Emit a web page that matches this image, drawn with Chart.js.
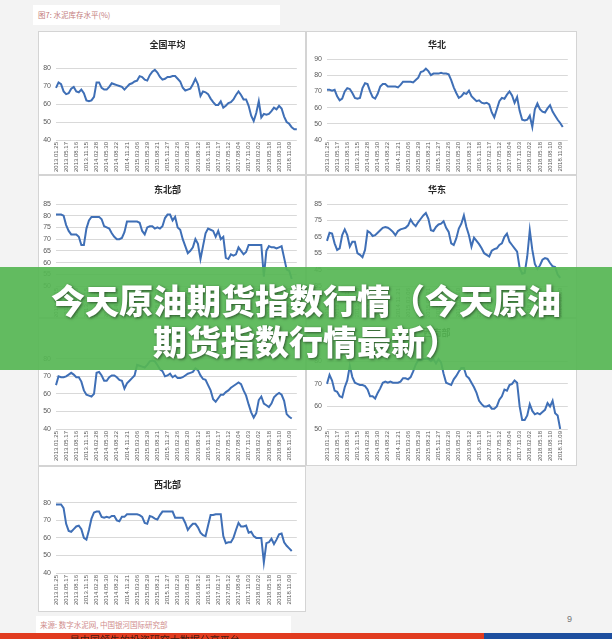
<!DOCTYPE html>
<html><head><meta charset="utf-8">
<script src="https://cdn.jsdelivr.net/npm/chart.js@4"></script>
<style>
html,body{margin:0;padding:0;}
body{width:612px;height:639px;position:relative;overflow:hidden;background:#f3f3f3;font-family:"Noto Sans CJK SC","Noto Sans",sans-serif;}
.box{position:absolute;background:#fff;}
.box::after{content:"";position:absolute;left:0;top:0;right:0;bottom:0;border:1px solid #d4d4d4;pointer-events:none;}
.box canvas{position:absolute;left:0;top:0;}
#fig{position:absolute;left:33px;top:5px;width:247px;height:20px;background:#fff;}
#fig span{position:absolute;left:5px;top:4px;font-size:7.5px;color:#c47c7c;white-space:nowrap;}
#src{position:absolute;left:36px;top:616px;width:255px;height:17px;background:#fff;}
#src span{position:absolute;left:4px;top:3px;font-size:7.5px;color:#d08c8c;white-space:nowrap;}
#pg{position:absolute;left:567px;top:614px;font-size:9px;color:#777;font-family:"Liberation Sans",Arial,sans-serif;}
#barR{position:absolute;left:0;top:633px;width:484px;height:6px;background:#e13b1f;overflow:hidden;}
#barB{position:absolute;left:484px;top:633px;width:128px;height:6px;background:#1d4e9e;}
#barR span{position:absolute;left:50px;top:-1px;font-size:10px;color:#3a1a10;white-space:nowrap;}
#barR i{position:absolute;left:6px;top:-1px;font-size:10px;color:#3a1a10;font-style:normal;}
#banner{position:absolute;left:0;top:267px;width:612px;height:103px;background:rgba(86,182,84,0.92);}
#banner div{position:absolute;left:0;top:12px;width:612px;text-align:center;font-size:34px;line-height:41px;font-weight:900;color:#fff;text-shadow:1px 1px 3px rgba(0,0,0,0.55);white-space:nowrap;}
</style>
</head>
<body>
<div id="fig"><span>图7: 水泥库存水平(%)</span></div>
<div class="box" id="b1"><canvas id="c1"></canvas></div>
<div class="box" id="b2"><canvas id="c2"></canvas></div>
<div class="box" id="b3"><canvas id="c3"></canvas></div>
<div class="box" id="b4"><canvas id="c4"></canvas></div>
<div class="box" id="b5"><canvas id="c5"></canvas></div>
<div class="box" id="b6"><canvas id="c6"></canvas></div>
<div class="box" id="b7"><canvas id="c7"></canvas></div>
<div id="src"><span>来源: 数字水泥网, 中国银河国际研究部</span></div>
<div id="pg">9</div>
<div id="barR"><i>•</i><span>•　是中国领先的投资研究大数据分享平台</span></div>
<div id="barB"></div>
<div id="banner"><div>今天原油期货指数行情（今天原油<br>期货指数行情最新）</div></div>
<script>
const dateLabels = ['2013.01.25','2013.05.17','2013.08.16','2013.11.15','2014.02.28','2014.05.30','2014.08.22','2014.11.21','2015.03.06','2015.05.29','2015.08.21','2015.11.27','2016.02.26','2016.05.20','2016.08.12','2016.11.18','2017.02.17','2017.05.12','2017.08.04','2017.11.03','2018.02.02','2018.05.18','2018.08.10','2018.11.09'];
const pointsPerLabel = 4;
const pointCount = 96;

const nationalAvg = [69,72,71,67,65.5,66,68.5,69.5,67,66.5,68,66,62,61.5,62,64,72,72,69,68,68,69.5,71.5,71,70.5,70,69.5,68,69.5,71,71.5,72.5,73,75.5,75,73.5,73,76,78,79,77.5,75,73.5,74,75,75,75.5,75.5,74,72.5,69,67.5,68,68.5,71,74,71,64.5,67,66.5,65.5,63,61,59.5,59.5,61.5,58,59,60.5,61,62.5,65,67,65,62.5,62.5,59,53.5,50.5,55,61.5,52.5,54.5,54,54.5,56,58,57,59,57.5,53,50,49,47,46,46];
const northChina = [71,71,70.5,71,67,64.5,65.5,70,72,71.5,69,66,65.5,66,72,75,74.5,70,66.5,65.5,68.5,73,74.5,74.5,73,73,73,73,72.5,74,76,76,76,76,75.5,77,78.5,82,82.5,84,82.5,80,81,81,81,81.5,81,81,80.5,77,72.5,69,66,67,69,68.5,70.5,67,65.5,64,64.5,63,62.5,63,62,57,54,59,64,66,65.5,68,70,67.5,63,66.5,58,52.5,52,52.5,55,48,59,62.5,59,57.5,57,59.5,61.5,57.5,55,52.5,50.5,48];
const northeast = [80.5,80.5,80.5,80,76,73.5,72,72,72,71,67.5,67.5,74.5,78,79.5,79.5,79.5,79.5,78.5,75.5,75,74.5,72.5,71,70,70,70.5,73,77.5,77.5,77.5,77.5,77.5,77,73.5,72,75,75.5,75.5,74.5,75,74.5,75.5,79,80.5,80.5,78,79.5,75,74,70,67,64,65,66.5,70,68,61.5,67,72.5,74.5,74,73.5,71,73.5,70,71,62,61.5,63.5,63,63.5,66.5,65,63.5,64.5,67.5,67.5,67.5,67.5,67.5,67.5,54,65,67,66.5,66.5,66,66.5,67,62,57,56.5,53];
const eastChina = [62.5,67.5,67,61,57,58,66,69.5,66,59,62,62,55,54,52.5,57,68.5,67.5,65.5,66,67.5,69,70.5,71,70.5,69.5,68,66,68.5,69.5,70,70.5,72,75.5,73,71.5,74,76,78,79.5,76,69,68.5,71,72.5,73,74.5,70.5,68,61,60,64,70,73,78,71,66,59,64.5,62.5,60.5,58,55,54,53,56.5,57.5,58,60,61,65,67,62,60,58,56,46,42.5,43,53,69,57,48.5,45.5,47.5,51,52,51.5,49,47,46.5,42,40];
const centralSouth = [65,70,69.5,69.5,70,71,72,71,69.5,69.5,67,62,59.5,59,58.5,60,72,72.5,70.5,67.5,67.5,69.5,70.5,70.5,69.5,68,67.5,63,66,67.5,69,70.5,76.5,76,75.5,75,76.5,78.5,79,78.5,76.5,74,73,70,70.5,71.5,69.5,70.5,69,69,69.5,70.5,71.5,72,72.5,74.5,73.5,70.5,68.5,68,65,62,57,55.5,57.5,59.5,59.5,61,62,63.5,64.5,65.5,66.5,65.5,62,59,54,49.5,46.5,49,56.5,58.5,54.5,53.5,52.5,54.5,58,59.5,60.5,59.5,56,48.5,47,46];
const southwest = [70,74,71.5,67,66.5,64.5,64,68.5,71.5,78,73,70.5,70,69.5,69.5,69,67.5,64.5,64.5,63.5,66,68,70.5,71,70.5,71,70.5,70.5,70.5,71,72.5,72.5,72,73,75.5,78.5,80.5,80.5,81,81,81,80,81,79,81,79.5,74.5,70.5,70,69.5,72,73.5,75.5,77,77,73.5,72.5,70.5,68.5,66,62.5,61,60,60,60.5,59,59,60,63,64.5,67.5,67,69.5,70,71.5,70.5,60,54,54,56,61,58,56.5,57,56.5,57.5,58.5,61.5,60,62.5,57,56,50];
const northwest = [79,79,79,77,68,64,63.5,65,66.5,67,65,60,59,64.5,71,74.5,75,75,72,71.5,72,71.5,72.5,72.5,70,69.5,72,72,73.5,73.5,73.5,73.5,73.5,73,72,68.5,68,72.5,72,71,70.5,73,75,75,75,75,75,71.5,71.5,71.5,71.5,68.5,64.5,66.5,68,68,66,63,61.5,61,67,73,73,73.5,73.5,73.5,61,57,57.5,57.5,60,64.5,68.5,66.5,66.5,67,63,63.5,61,60,60,60,46,57,57.5,59.5,56.5,59,62,62.5,57.5,55.5,54,52.5];

const categories = Array.from({length: pointCount}, (_, i) =>
  (i % pointsPerLabel === 0 && dateLabels[i / pointsPerLabel]) ? dateLabels[i / pointsPerLabel] : '');

const panels = [
  {id:'1', title:'全国平均', data:nationalAvg, min:40, max:85, col:0, row:0},
  {id:'2', title:'华北', data:northChina, min:40, max:90, col:1, row:0},
  {id:'3', title:'东北部', data:northeast, min:50, max:85, col:0, row:1},
  {id:'4', title:'华东', data:eastChina, min:35, max:85, col:1, row:1},
  {id:'5', title:'中南部', data:centralSouth, min:40, max:85, col:0, row:2},
  {id:'6', title:'西南部', data:southwest, min:50, max:85, col:1, row:2},
  {id:'7', title:'西北部', data:northwest, min:40, max:85, col:0, row:3}
];
const cols = [{left:38, width:268, yW:18, padR:9}, {left:306, width:271, yW:21, padR:9}];
const rows = [
  {top:31, h:144, tTop:8.6, tBot:8.6, xH:35},
  {top:175, h:143, tTop:9.6, tBot:8.6, xH:32},
  {top:318, h:148, tTop:9.6, tBot:11.6, xH:37},
  {top:466, h:146, tTop:13.6, tBot:3.6, xH:39}
];

panels.forEach(p => {
  const c = cols[p.col], r = rows[p.row];
  const box = document.getElementById('b' + p.id);
  box.style.left = c.left + 'px'; box.style.top = r.top + 'px';
  box.style.width = c.width + 'px'; box.style.height = r.h + 'px';
  const cv = document.getElementById('c' + p.id);
  cv.width = c.width; cv.height = r.h;
  cv.style.width = c.width + 'px'; cv.style.height = r.h + 'px';
  new Chart(cv, {
    type: 'line',
    data: { labels: categories, datasets: [{ data: p.data, borderColor: '#3f6fb6', borderWidth: 2, pointRadius: 0, fill: false, tension: 0 }] },
    options: {
      responsive: false, animation: false, devicePixelRatio: 1,
      layout: { padding: { left: 0, right: c.padR, top: 0, bottom: 0 } },
      plugins: {
        legend: { display: false }, tooltip: { enabled: false },
        title: { display: true, text: p.title, color: '#262626',
          font: { family: '"Noto Sans CJK SC", sans-serif', size: 9, weight: 'bold', lineHeight: 1.2 },
          padding: { top: r.tTop, bottom: r.tBot } }
      },
      scales: {
        x: {
          type: 'category', offset: false,
          grid: { display: false, drawTicks: false }, border: { display: false },
          ticks: { autoSkip: false, minRotation: 90, maxRotation: 90, padding: 2, color: '#595959',
            font: { family: '"Liberation Sans", Arial, sans-serif', size: 6 } },
          afterFit: s => { s.height = r.xH; }
        },
        y: {
          min: p.min, max: p.max,
          grid: { color: '#d9d9d9', lineWidth: 1, drawTicks: false }, border: { display: false },
          ticks: { stepSize: 5, padding: 5, color: '#595959',
            font: { family: '"Liberation Sans", Arial, sans-serif', size: 7 } },
          afterFit: s => { s.width = c.yW; }
        }
      }
    }
  });
});
</script>
</body></html>
